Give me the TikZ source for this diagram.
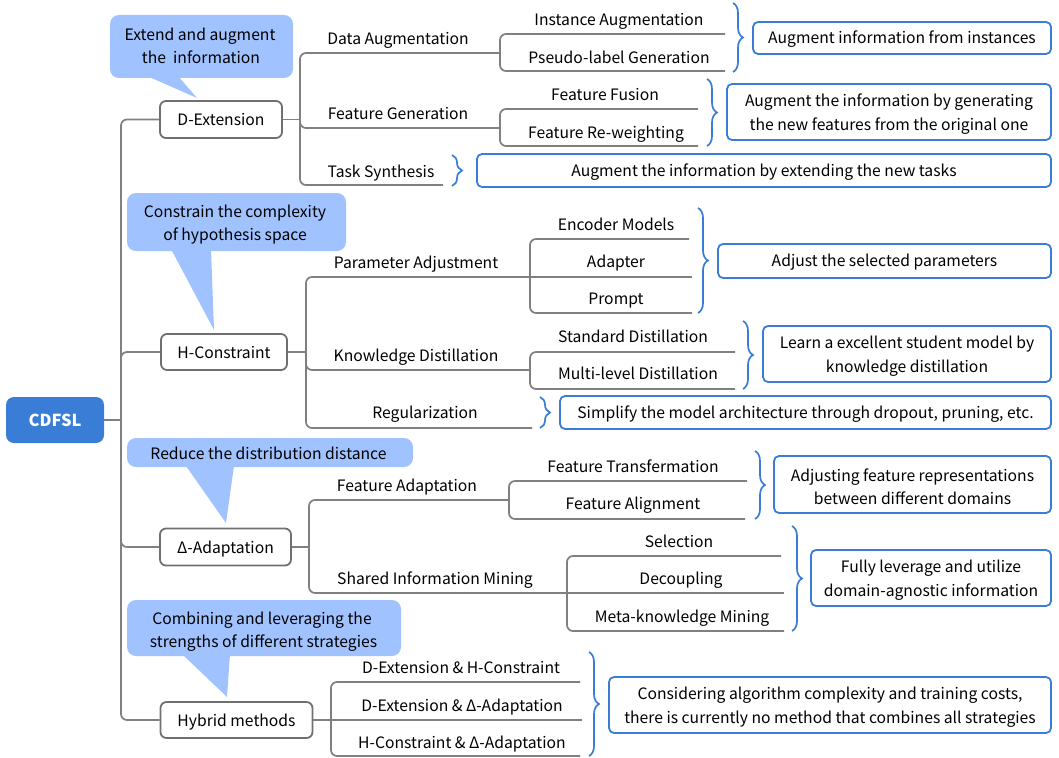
\documentclass[tikz,border=0pt]{standalone}
\usepackage{fontspec}
\setmainfont{Noto Sans CJK SC}
\usetikzlibrary{decorations.pathreplacing}
\definecolor{lineg}{RGB}{128,128,128}
\definecolor{boxg}{RGB}{112,112,112}
\definecolor{bblue}{RGB}{58,125,214}
\definecolor{bubfill}{RGB}{160,195,255}
\newcommand{\mainfs}{\fontsize{15.7pt}{23.5pt}\selectfont}
\tikzset{
  conn/.style={draw=lineg, line width=1.7pt, rounded corners=6pt},
  lvone/.style={draw=boxg, line width=1.8pt, rounded corners=6pt, fill=white, inner sep=0pt, font=\mainfs, text height=12.5pt, text depth=0pt},
  lbl/.style={inner sep=0pt, font=\mainfs, text height=12.5pt, text depth=0pt},
  desc/.style={draw=bblue, line width=1.8pt, rounded corners=5pt, inner sep=0pt, align=center, font=\mainfs, text height=13pt, text depth=2pt},
  descbox/.style={draw=bblue, line width=1.8pt, rounded corners=5pt, inner sep=0pt},
  desctext/.style={inner sep=0pt, align=center, font=\mainfs},
  bub/.style={fill=bubfill, rounded corners=9pt, inner sep=0pt, align=center, font=\mainfs},
  brc/.style={draw=bblue, line width=1.7pt, decorate, decoration={brace, amplitude=10pt}},
  rootbox/.style={fill=bblue, rounded corners=8pt, inner sep=0pt, text=white, font=\fontsize{16.5pt}{20pt}\selectfont\bfseries, text height=12pt, text depth=0pt},
}
\begin{document}
\begin{tikzpicture}[x=1pt,y=-1pt]
\useasboundingbox (0,0) rectangle (1059,757);

% ---------- bubbles ----------
\node[bub, minimum width=183pt, minimum height=63pt] (b1) at (201.5,46.5) {};
\node[lbl] at (200,34) {Extend and augment};
\node[lbl] at (201,57) {the\ \ information};
\fill[bubfill] (147,76) -- (197,98) -- (178,76) -- cycle;

\node[bub, minimum width=219pt, minimum height=58pt] (b2) at (236.5,222) {};
\node[lbl] at (235,211) {Constrain the complexity};
\node[lbl] at (235,234) {of hypothesis space};
\fill[bubfill] (171,249) -- (214,330) -- (211,249) -- cycle;

\node[bub, minimum width=286pt, minimum height=29pt] (b3) at (270,452.5) {};
\node[lbl] at (268.5,453) {Reduce the distribution distance};
\fill[bubfill] (186,466) -- (226,523) -- (234,466) -- cycle;

\node[bub, minimum width=274pt, minimum height=56pt] (b4) at (264,628) {};
\node[lbl] at (262,618) {Combining and leveraging the};
\node[lbl] at (263.5,641) {strengths of different strategies};
\fill[bubfill] (182,654) -- (227,697) -- (230,654) -- cycle;

% ---------- root and level 1 ----------
\node[rootbox, minimum width=98pt, minimum height=46pt] (root) at (55,420) {CDFSL};
\node[lvone, minimum width=122pt, minimum height=37pt] (dext) at (221,119.5) {D-Extension};
\node[lvone, minimum width=126pt, minimum height=36pt] (hc) at (224,352) {H-Constraint};
\node[lvone, minimum width=131pt, minimum height=37pt] (dad) at (225.5,547) {Δ-Adaptation};
\node[lvone, minimum width=152pt, minimum height=36pt] (hy) at (236.5,720) {Hybrid methods};

\coordinate (tr) at (121,420);
\draw[conn] (root.east) -- (tr);
\draw[conn] (tr) |- (dext.west);
\draw[conn] (tr) |- (hc.west);
\draw[conn] (tr) |- (dad.west);
\draw[conn] (tr) |- (hy.west);

% ---------- D-Extension group ----------
\coordinate (j1) at (300,119.5);
\coordinate (dar) at (500,53);
\coordinate (fgr) at (500,128);
\coordinate (tsr) at (443,185);
\coordinate (iar) at (725,34);
\coordinate (plr) at (725,71);
\coordinate (ffr) at (698,109);
\coordinate (frr) at (698,146);
\draw[conn] (dext.east) -- (j1);
\draw[conn] (j1) |- (dar);
\draw[conn] (j1) |- (fgr);
\draw[conn] (j1) |- (tsr);
\draw[conn] (dar) |- (iar);
\draw[conn] (dar) |- (plr);
\draw[conn] (fgr) |- (ffr);
\draw[conn] (fgr) |- (frr);
\node[lbl] (da) at (398,38) {Data Augmentation};
\node[lbl] (fg) at (398,113) {Feature Generation};
\node[lbl] (ts) at (381,171) {Task Synthesis};
\node[lbl] (ia) at (619,19) {Instance Augmentation};
\node[lbl] (pl) at (619,57) {Pseudo-label Generation};
\node[lbl] (ff) at (605,94) {Feature Fusion};
\node[lbl] (fr) at (606,132) {Feature Re-weighting};

\draw[brc] (733,3) -- (733,72);
\draw[brc] (707,79) -- (707,146);
\draw[brc] (452,155) -- (452,186);
\node[desc, minimum width=298pt, minimum height=32pt] (d1) at (902,38) {Augment information from instances};
\node[descbox, minimum width=324pt, minimum height=56pt] (d2) at (889,112) {};
\node[desctext] (d2t) at (889,114) {Augment the information by generating\\the new features from the original one};
\node[desc, minimum width=574pt, minimum height=33pt] (d3) at (764,170.5) {Augment the information by extending the new tasks};

% ---------- H-Constraint group ----------
\coordinate (j2) at (306,352);
\coordinate (par) at (530,277);
\coordinate (kdr) at (530,370);
\coordinate (rgr) at (532,428);
\coordinate (emr) at (689,239);
\coordinate (adr) at (692,277);
\coordinate (prr) at (692,313);
\coordinate (sdr) at (735,352);
\coordinate (mlr) at (735,389);
\draw[conn] (hc.east) -- (j2);
\draw[conn] (j2) |- (par);
\draw[conn] (j2) |- (kdr);
\draw[conn] (j2) |- (rgr);
\draw[conn] (par) |- (emr);
\draw[conn] (par) -- (adr);
\draw[conn] (par) |- (prr);
\draw[conn] (kdr) |- (sdr);
\draw[conn] (kdr) |- (mlr);
\node[lbl] (pa) at (416,262) {Parameter Adjustment};
\node[lbl] (kd) at (416,355) {Knowledge Distillation};
\node[lbl] (rg) at (425,412) {Regularization};
\node[lbl] (em) at (616,224) {Encoder Models};
\node[lbl] (ad) at (616,261) {Adapter};
\node[lbl] (pr) at (616,298) {Prompt};
\node[lbl] (sd) at (633,336) {Standard Distillation};
\node[lbl] (ml) at (638,373) {Multi-level Distillation};

\draw[brc] (698,208) -- (698,313);
\draw[brc] (743,321) -- (743,389);
\draw[brc] (540,397) -- (540,428);
\node[desc, minimum width=333pt, minimum height=34pt] (d4) at (884.5,261) {Adjust the selected parameters};
\node[descbox, minimum width=288pt, minimum height=56pt] (d5) at (907,354) {};
\node[desctext] (d5t) at (907,356) {Learn a excellent student model by\\knowledge distillation};
\node[desc, minimum width=491pt, minimum height=33pt] (d6) at (805.5,412.5) {Simplify the model architecture through dropout, pruning, etc.};

% ---------- Delta-Adaptation group ----------
\coordinate (j3) at (309,547);
\coordinate (far) at (509,500);
\coordinate (simr) at (567,593);
\coordinate (ftr) at (747,481);
\coordinate (falr) at (745,519);
\coordinate (ser) at (781,556);
\coordinate (dcr) at (784,593);
\coordinate (mkr) at (784,631);
\draw[conn] (dad.east) -- (j3);
\draw[conn] (j3) |- (far);
\draw[conn] (j3) |- (simr);
\draw[conn] (far) |- (ftr);
\draw[conn] (far) |- (falr);
\draw[conn] (simr) |- (ser);
\draw[conn] (simr) -- (dcr);
\draw[conn] (simr) |- (mkr);
\node[lbl] (fa) at (407,485) {Feature Adaptation};
\node[lbl] (sim) at (435,578) {Shared Information Mining};
\node[lbl] (ft) at (633,466) {Feature Transfermation};
\node[lbl] (fal) at (633,503) {Feature Alignment};
\node[lbl] (se) at (679,541) {Selection};
\node[lbl] (dc) at (681,578) {Decoupling};
\node[lbl] (mk) at (682,616) {Meta-knowledge Mining};

\draw[brc] (755,451) -- (755,519);
\draw[brc] (792,526) -- (792,631);
\node[descbox, minimum width=277pt, minimum height=57pt] (d7) at (912.5,484.5) {};
\node[desctext] (d7t) at (912.5,486.5) {Adjusting feature representations\\between different domains};
\node[descbox, minimum width=240pt, minimum height=56pt] (d8) at (931,578) {};
\node[desctext] (d8t) at (931,580) {Fully leverage and utilize\\domain-agnostic information};

% ---------- Hybrid group ----------
\coordinate (j4) at (331,720);
\coordinate (h1r) at (580,682);
\coordinate (h2r) at (582,720);
\coordinate (h3r) at (580,756);
\draw[conn] (hy.east) -- (j4);
\draw[conn] (j4) |- (h1r);
\draw[conn] (j4) -- (h2r);
\draw[conn] (j4) |- (h3r);
\node[lbl] (h1) at (461,667) {D-Extension \& H-Constraint};
\node[lbl] (h2) at (462,705) {D-Extension \& Δ-Adaptation};
\node[lbl] (h3) at (462,742) {H-Constraint \& Δ-Adaptation};

\draw[brc] (589,652) -- (589,756);
\node[descbox, minimum width=442pt, minimum height=56pt] (d9) at (830,705) {};
\node[desctext] (d9t) at (830,707) {Considering algorithm complexity and training costs,\\there is currently no method that combines all strategies};
\end{tikzpicture}
\end{document}
